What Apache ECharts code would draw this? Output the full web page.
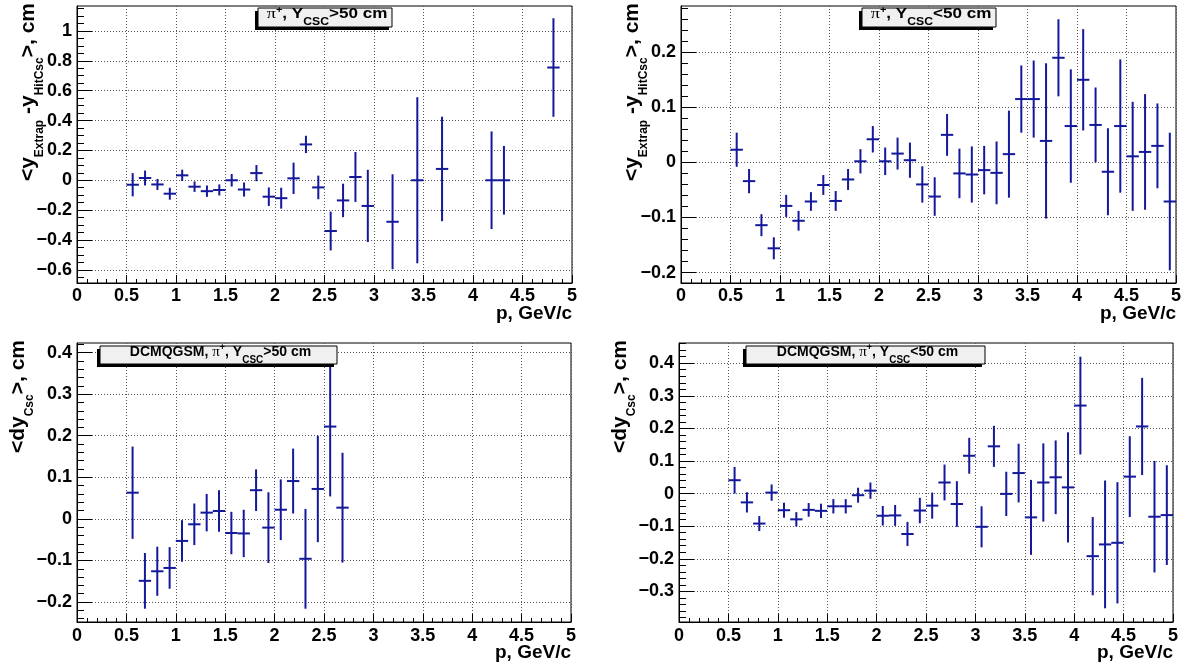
<!DOCTYPE html>
<html>
<head>
<meta charset="utf-8">
<title>Mean y residuals at CSC vs momentum</title>
<script src="https://cdn.jsdelivr.net/npm/echarts@6/dist/echarts.min.js"></script>
<style>
  html, body { margin: 0; padding: 0; background: #fff; }
  #chart { width: 1193px; height: 668px; }
</style>
</head>
<body>
<div id="chart"></div>
<script>
// Momentum bin centres, GeV/c (bins of 0.125 starting at 0.5)
const pMomentum = [
  0.5625, 0.6875, 0.8125, 0.9375, 1.0625, 1.1875, 1.3125, 1.4375, 1.5625, 1.6875,
  1.8125, 1.9375, 2.0625, 2.1875, 2.3125, 2.4375, 2.5625, 2.6875, 2.8125, 2.9375,
  3.0625, 3.1875, 3.3125, 3.4375, 3.5625, 3.6875, 3.8125, 3.9375, 4.0625, 4.1875,
  4.3125, 4.4375, 4.5625, 4.6875, 4.8125, 4.9375
];
const binHalfWidth = 0.0625;

// <y_Extrap - y_HitCsc>, pi+, Y_CSC > 50 cm
const extrapHighMean = [
  -0.030, 0.015, -0.028, -0.090, 0.033, -0.043, -0.073, -0.065, 0.000, -0.062,
  0.048, -0.110, -0.120, 0.013, 0.240, -0.048, -0.340, -0.135, 0.022, -0.172,
  null, -0.278, null, 0.000, null, 0.076, null, null, null, 0.000,
  0.000, null, null, null, 0.755, null
];
const extrapHighErr = [
  0.078, 0.050, 0.037, 0.040, 0.038, 0.035, 0.038, 0.037, 0.042, 0.047,
  0.054, 0.062, 0.070, 0.105, 0.058, 0.079, 0.130, 0.112, 0.167, 0.242,
  null, 0.318, null, 0.556, null, 0.350, null, null, null, 0.327,
  0.230, null, null, null, 0.330, null
];

// <y_Extrap - y_HitCsc>, pi+, Y_CSC < 50 cm
const extrapLowMean = [
  0.023, -0.034, -0.114, -0.156, -0.079, -0.106, -0.071, -0.041, -0.070, -0.031,
  0.002, 0.042, 0.002, 0.016, 0.004, -0.040, -0.062, 0.050, -0.020, -0.022,
  -0.014, -0.019, 0.015, 0.115, 0.115, 0.039, 0.190, 0.066, 0.150, 0.068,
  -0.017, 0.066, 0.011, 0.019, 0.030, -0.071
];
const extrapLowErr = [
  0.031, 0.022, 0.020, 0.020, 0.020, 0.018, 0.017, 0.018, 0.018, 0.019,
  0.022, 0.024, 0.025, 0.029, 0.032, 0.033, 0.035, 0.038, 0.045, 0.051,
  0.044, 0.057, 0.079, 0.061, 0.070, 0.141, 0.070, 0.103, 0.092, 0.068,
  0.079, 0.121, 0.099, 0.105, 0.077, 0.125
];

// <dy_Csc>, DCMQGSM, pi+, Y_CSC > 50 cm
const dyCscHighMean = [
  0.063, -0.149, -0.126, -0.118, -0.053, -0.013, 0.015, 0.019, -0.034, -0.035,
  0.069, -0.021, 0.022, 0.091, -0.096, 0.072, 0.222, 0.027
];
const dyCscHighErr = [
  0.111, 0.067, 0.059, 0.050, 0.050, 0.050, 0.045, 0.050, 0.051, 0.057,
  0.050, 0.085, 0.073, 0.078, 0.120, 0.128, 0.168, 0.132
];

// <dy_Csc>, DCMQGSM, pi+, Y_CSC < 50 cm
const dyCscLowMean = [
  0.041, -0.027, -0.092, 0.003, -0.051, -0.079, -0.050, -0.053, -0.039, -0.039,
  -0.005, 0.009, -0.068, -0.067, -0.124, -0.052, -0.037, 0.034, -0.032, 0.116,
  -0.102, 0.145, -0.001, 0.063, -0.073, 0.034, 0.050, 0.019, 0.270, -0.192,
  -0.156, -0.151, 0.052, 0.206, -0.071, -0.066
];
const dyCscLowErr = [
  0.041, 0.031, 0.023, 0.025, 0.023, 0.022, 0.021, 0.022, 0.022, 0.022,
  0.023, 0.025, 0.030, 0.032, 0.037, 0.039, 0.040, 0.055, 0.070, 0.055,
  0.063, 0.063, 0.068, 0.090, 0.115, 0.120, 0.113, 0.169, 0.150, 0.120,
  0.196, 0.186, 0.124, 0.149, 0.171, 0.153
];

// Axis tick labels
const yTicksExtrapHigh = [-0.6, -0.4, -0.2, 0, 0.2, 0.4, 0.6, 0.8, 1];
const yTicksExtrapLow = [-0.2, -0.1, 0, 0.1, 0.2];
const yTicksCscHigh = [-0.2, -0.1, 0, 0.1, 0.2, 0.3, 0.4];
const yTicksCscLow = [-0.3, -0.2, -0.1, 0, 0.1, 0.2, 0.3, 0.4];

const FONT = 'Liberation Sans';
const MARK = '#14189a';

const titleHigh = '{pi|\u03c0}{sup|+}{m|, Y}{sub|CSC}{m|>50 cm}';
const titleLow = '{pi|\u03c0}{sup|+}{m|, Y}{sub|CSC}{m|<50 cm}';
const titleModelHigh = '{m|DCMQGSM, }{pi|\u03c0}{sup|+}{m|, Y}{sub|CSC}{m|>50 cm}';
const titleModelLow = '{m|DCMQGSM, }{pi|\u03c0}{sup|+}{m|, Y}{sub|CSC}{m|<50 cm}';
const yNameExtrap = '{m|<y}{s|Extrap}{m| -y}{s|HitCsc}{m|>, cm}';
const yNameCsc = '{m|<dy}{s|Csc}{m|>, cm}';

const panels = [
  { frame: { left: 77, top: 6, width: 495, height: 277 }, yRange: [-0.688, 1.167],
    majors: yTicksExtrapHigh, minorStep: 0.05, mean: extrapHighMean, err: extrapHighErr,
    box: [258, 8, 134, 19], title: titleHigh, titleScale: 1.22,
    yName: yNameExtrap, yNameX: 46, xNameY: 304 },
  { frame: { left: 681, top: 6, width: 495, height: 277 }, yRange: [-0.219, 0.284],
    majors: yTicksExtrapLow, minorStep: 0.02, mean: extrapLowMean, err: extrapLowErr,
    box: [862, 8, 134, 19], title: titleLow, titleScale: 1.22,
    yName: yNameExtrap, yNameX: 650, xNameY: 304 },
  { frame: { left: 77, top: 343, width: 494, height: 279 }, yRange: [-0.248, 0.423],
    majors: yTicksCscHigh, minorStep: 0.02, mean: dyCscHighMean, err: dyCscHighErr,
    box: [100, 346, 237, 18], title: titleModelHigh, titleScale: 1,
    yName: yNameCsc, yNameX: 36, xNameY: 643 },
  { frame: { left: 679, top: 343, width: 494, height: 279 }, yRange: [-0.394, 0.462],
    majors: yTicksCscLow, minorStep: 0.02, mean: dyCscLowMean, err: dyCscLowErr,
    box: [746, 346, 239, 18], title: titleModelLow, titleScale: 1,
    yName: yNameCsc, yNameX: 638, xNameY: 643 }
];

function minorValues(range, step, majors) {
  const out = [];
  const start = Math.ceil(range[0] / step - 1e-9);
  const end = Math.floor(range[1] / step + 1e-9);
  for (let k = start; k <= end; k++) {
    const v = Math.round(k * step * 1000) / 1000;
    if (!majors.some(m => Math.abs(m - v) < 1e-9)) out.push(v);
  }
  return out;
}

function fmtY(v) {
  if (Math.abs(v) < 1e-9) return '0';
  const s = String(Math.round(Math.abs(v) * 1000) / 1000);
  return v < 0 ? '\u2212' + s : s;
}

// Rich tokens are centred on the line; asymmetric vertical padding shifts
// a token up (bottom padding) or down (top padding) by half the padding.
const boxRich = {
  m:   { fontFamily: FONT, fontWeight: 'bold', fontSize: 14, lineHeight: 16, color: '#000',
         padding: [0, 0, 8, 0] },
  pi:  { fontFamily: 'Liberation Serif', fontSize: 15, lineHeight: 16, color: '#000',
         padding: [0, 0, 8, 0] },
  sup: { fontFamily: FONT, fontWeight: 'bold', fontSize: 9, lineHeight: 10, color: '#000',
         padding: [0, 0, 16, 0] },
  sub: { fontFamily: FONT, fontWeight: 'bold', fontSize: 10, lineHeight: 11, color: '#000',
         padding: [8, 0, 0, 0] }
};
// Axis titles: all tokens sit on the line bottom, main text lifted by its bottom padding
const yNameRich = {
  m: { fontFamily: FONT, fontWeight: 'bold', fontSize: 21, lineHeight: 24, color: '#000',
       verticalAlign: 'bottom', padding: [0, 0, 7, 0] },
  s: { fontFamily: FONT, fontWeight: 'bold', fontSize: 12, lineHeight: 14, color: '#000',
       verticalAlign: 'bottom' }
};

const grids = [], xAxes = [], yAxes = [], series = [], graphics = [];

panels.forEach((pn, i) => {
  grids.push(Object.assign({ show: true, borderColor: '#000', borderWidth: 1,
    backgroundColor: '#fff', containLabel: false }, pn.frame));

  xAxes.push({
    type: 'value', gridIndex: i, min: 0, max: 5, interval: 0.5,
    axisLine: { show: true, onZero: false, lineStyle: { color: '#000', width: 1 } },
    axisTick: { show: true, inside: true, length: 8, lineStyle: { color: '#000', width: 1 } },
    minorTick: { show: true, splitNumber: 5, length: 4, lineStyle: { color: '#000', width: 1 } },
    axisLabel: { fontFamily: FONT, fontWeight: 'bold', fontSize: 18, color: '#000',
                 margin: i < 2 ? 4 : 5, showMinLabel: true, showMaxLabel: true },
    splitLine: { show: true, lineStyle: { color: '#555', width: 1, type: [1, 2] } },
    minorSplitLine: { show: false }
  });

  // major ticks, labels and grid lines
  yAxes.push({
    type: 'value', gridIndex: i, position: 'left', min: pn.yRange[0], max: pn.yRange[1],
    axisLine: { show: true, onZero: false, lineStyle: { color: '#000', width: 1 } },
    axisTick: { show: true, inside: true, length: 15, customValues: pn.majors,
                lineStyle: { color: '#000', width: 1 } },
    axisLabel: { customValues: pn.majors, formatter: fmtY, fontFamily: FONT, fontWeight: 'bold',
                 fontSize: 18, color: '#000', margin: 5 },
    splitLine: { show: true, lineStyle: { color: '#555', width: 1, type: [1, 2] } }
  });
  // minor ticks
  yAxes.push({
    type: 'value', gridIndex: i, position: 'left', min: pn.yRange[0], max: pn.yRange[1],
    axisLine: { show: false, onZero: false },
    axisTick: { show: true, inside: true, length: 7,
                customValues: minorValues(pn.yRange, pn.minorStep, pn.majors),
                lineStyle: { color: '#000', width: 1 } },
    axisLabel: { show: false },
    splitLine: { show: false }
  });

  const data = [];
  pn.mean.forEach((m, k) => {
    if (m !== null && m !== undefined) data.push([pMomentum[k], m, pn.err[k]]);
  });

  series.push({
    type: 'custom', xAxisIndex: i, yAxisIndex: 2 * i, clip: true, z: 5,
    data: data,
    renderItem: function (params, api) {
      const x = api.value(0), y = api.value(1), e = api.value(2);
      const c = api.coord([x, y]);
      const l = api.coord([x - binHalfWidth, y]);
      const r = api.coord([x + binHalfWidth, y]);
      const t = api.coord([x, y + e]);
      const b = api.coord([x, y - e]);
      const st = { stroke: MARK, lineWidth: 2 };
      return {
        type: 'group',
        children: [
          { type: 'line', shape: { x1: l[0], y1: c[1], x2: r[0], y2: c[1] }, style: st },
          { type: 'line', shape: { x1: c[0], y1: t[1], x2: c[0], y2: b[1] }, style: st }
        ]
      };
    }
  });

  // title box with shadow
  const [bx, by, bw, bh] = pn.box;
  graphics.push({ type: 'rect', z: 100, shape: { x: bx - 3, y: by + 3, width: bw, height: bh },
                  style: { fill: '#000' } });
  graphics.push({ type: 'rect', z: 101, shape: { x: bx, y: by, width: bw, height: bh },
                  style: { fill: '#f0f0f0', stroke: '#000', lineWidth: 1 } });
  graphics.push({ type: 'text', z: 102, x: bx + bw / 2 + 2, y: by + bh / 2 + 1, scaleX: pn.titleScale,
                  style: { text: pn.title, rich: boxRich, align: 'center', verticalAlign: 'middle' } });

  // y axis title, reading upwards, right-aligned to the top of the pad
  graphics.push({ type: 'text', z: 102, x: pn.yNameX, y: pn.frame.top - 3, rotation: Math.PI / 2,
                  style: { text: pn.yName, rich: yNameRich, align: 'right', verticalAlign: 'bottom' } });

  // x axis title
  graphics.push({ type: 'text', z: 102, x: pn.frame.left + pn.frame.width, y: pn.xNameY,
                  style: { text: 'p, GeV/c', fontFamily: FONT, fontWeight: 'bold', fontSize: 19,
                           fill: '#000', align: 'right', verticalAlign: 'top' } });
});

const chart = echarts.init(document.getElementById('chart'), null, { renderer: 'canvas' });
chart.setOption({
  backgroundColor: '#fff',
  animation: false,
  grid: grids,
  xAxis: xAxes,
  yAxis: yAxes,
  series: series,
  graphic: graphics
});
</script>
</body>
</html>
